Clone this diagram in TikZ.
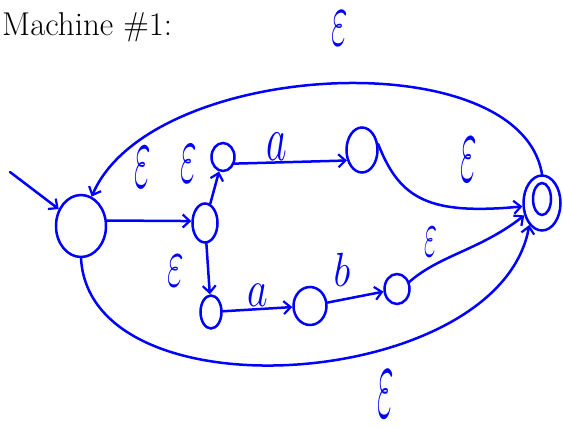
\RequirePackage{fix-cm}
\documentclass[tikz,border=0pt]{standalone}
\usetikzlibrary{shapes.geometric,arrows.meta}
\begin{document}
\begin{tikzpicture}[x=1pt,y=-1pt,
  st/.style={draw=blue, ellipse, line width=2.5pt, inner sep=0pt},
  arr/.style={draw=blue, line width=2.5pt, line cap=round, line join=round,
    -{Straight Barb[length=7pt,width=13pt,line width=2.2pt]}},
  lbl/.style={text=blue, inner sep=1pt, font=\fontsize{40}{40}\selectfont},
  eps/.style={lbl, font=\fontsize{36}{36}\selectfont},
]
\useasboundingbox (0,0) rectangle (563,427);
\node[anchor=base west, inner sep=0pt, font=\fontsize{33}{38}\selectfont] (title) at (2,36) {Machine \#1:};

% states
\node[st, minimum width=50pt, minimum height=62pt] (q0) at (81,226) {};
\node[st, minimum width=25pt, minimum height=39pt] (q1) at (205,223) {};
\node[st, minimum width=23pt, minimum height=28pt] (p0) at (223,157) {};
\node[st, minimum width=31pt, minimum height=45pt] (p1) at (362,150) {};
\node[st, minimum width=21pt, minimum height=33pt] (r0) at (211,312) {};
\node[st, minimum width=33pt, minimum height=38pt] (r1) at (310,306) {};
\node[st, minimum width=25pt, minimum height=30pt] (r2) at (397,289) {};
\node[st, minimum width=37pt, minimum height=55pt] (f) at (542,203) {};
\node[st, minimum width=18pt, minimum height=32pt] (fi) at (542,199) {};

% start
\coordinate (s) at (10,172);
\draw[arr] (s) -- (q0);

% transitions
\draw[arr] (q0.12) -- (q1.172);
\draw[arr] (q1) -- (p0);
\draw[arr] (p0.-30) -- (p1.215);
\draw[arr] (p1.20) .. controls (400,200) and (430,215) .. (f.190);
\draw[arr] (q1) -- (r0);
\draw[arr] (r0) -- (r1);
\draw[arr] (r1) -- (r2);
\draw[arr] (r2.30) .. controls (440,255) and (480,250) .. (f.215);
\draw[arr] (f.north) .. controls (520,40) and (150,60) .. (q0.70);
\draw[arr] (q0.south) .. controls (90,420) and (500,390) .. (f.240);

% labels
\node[eps] (e1) at (340,28) {\scalebox{1}[2.2]{$\varepsilon$}};
\node[eps] (e2) at (143,167) {\scalebox{1}[2.6]{$\varepsilon$}};
\node[eps] (e3) at (189,164) {\scalebox{1}[2.4]{$\varepsilon$}};
\node[lbl] (a1) at (277,147) {\scalebox{1}[1.6]{$a$}};
\node[eps] (e4) at (469,160) {\scalebox{1}[2.8]{$\varepsilon$}};
\node[eps] (e5) at (176,271) {\scalebox{1}[2.0]{$\varepsilon$}};
\node[lbl] (a2) at (258,295) {\scalebox{1}[1.3]{$a$}};
\node[lbl] (b1) at (342,270) {\scalebox{1}[1.2]{$b$}};
\node[eps, font=\fontsize{28}{28}\selectfont] (e6) at (431,242) {\scalebox{1}[2.4]{$\varepsilon$}};
\node[eps] (e7) at (386,394) {\scalebox{1}[3.0]{$\varepsilon$}};
\end{tikzpicture}
\end{document}
